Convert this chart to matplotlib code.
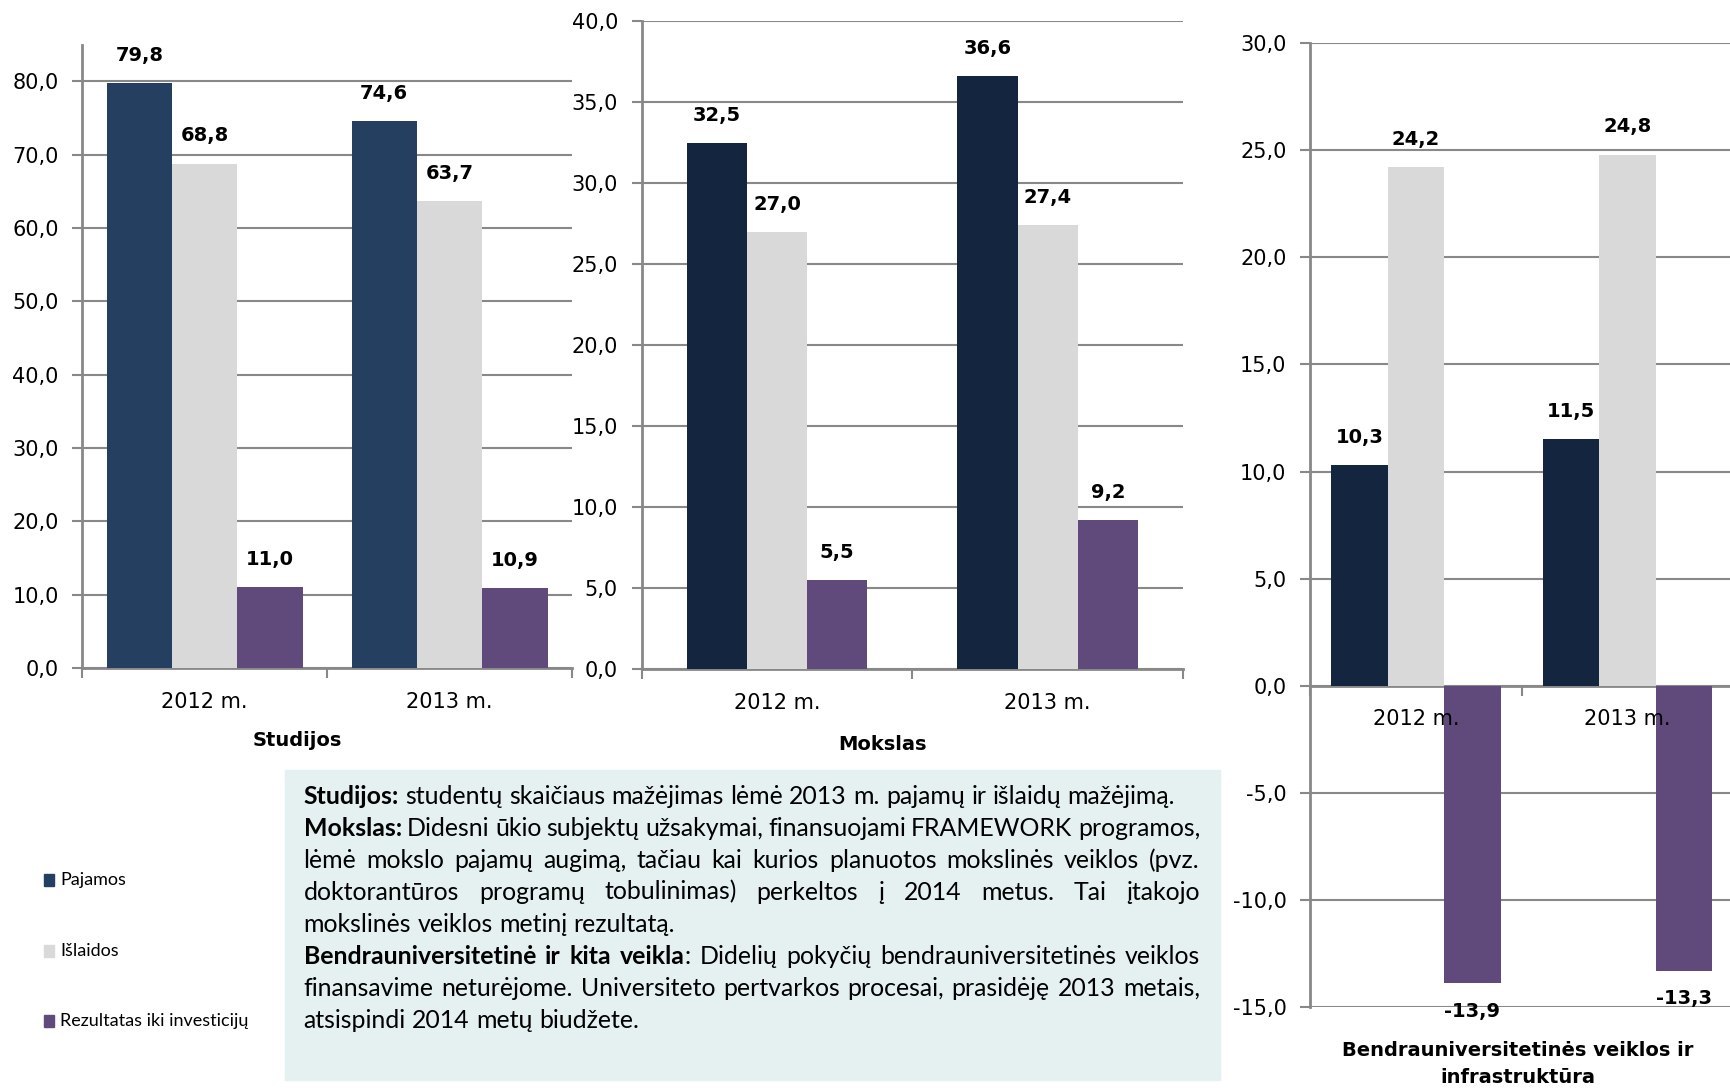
import matplotlib
matplotlib.use("Agg")
import matplotlib.pyplot as plt
from matplotlib.patches import Rectangle
from matplotlib.ticker import FuncFormatter

# data
categories = ['2012 m.', '2013 m.']
series_names = ['Pajamos', 'Išlaidos', 'Rezultatas iki investicijų']

studijos_pajamos = [79.8, 74.6]
studijos_islaidos = [68.8, 63.7]
studijos_rezultatas = [11.0, 10.9]

mokslas_pajamos = [32.5, 36.6]
mokslas_islaidos = [27.0, 27.4]
mokslas_rezultatas = [5.5, 9.2]

bendra_pajamos = [10.3, 11.5]
bendra_islaidos = [24.2, 24.8]
bendra_rezultatas = [-13.9, -13.3]

note_lines = [
    ("**Studijos:** studentų skaičiaus mažėjimas lėmė 2013 m. pajamų ir išlaidų mažėjimą.", False),
    ("**Mokslas:** Didesni ūkio subjektų užsakymai, finansuojami FRAMEWORK programos,", True),
    ("lėmė mokslo pajamų augimą, tačiau kai kurios planuotos mokslinės veiklos (pvz.", True),
    ("doktorantūros programų tobulinimas) perkeltos į 2014 metus.  Tai įtakojo", True),
    ("mokslinės veiklos metinį rezultatą.", False),
    ("**Bendrauniversitetinė ir kita veikla**:  Didelių pokyčių bendrauniversitetinės veiklos", True),
    ("finansavime neturėjome. Universiteto pertvarkos procesai, prasidėję 2013 metais,", True),
    ("atsispindi 2014 metų biudžete.", False),
]

C_PAJ1 = '#253F60'
C_PAJ2 = '#13253F'
C_ISL = '#D9D9D9'
C_REZ = '#604A7B'
GRID = '#888888'

W, H = 1731, 1092
fig = plt.figure(figsize=(W / 100, H / 100), dpi=100)
fig.patch.set_facecolor('white')

fmt = FuncFormatter(lambda v, p: f"{v:.1f}".replace('.', ','))


def panel(rect, paj, isl, rez, paj_color, group_w, ylim, yticks):
    ax = fig.add_axes(rect)
    bw = group_w / 3
    x = [0, 1]
    cols = [paj_color, C_ISL, C_REZ]
    for t in yticks:
        ax.axhline(t, color=GRID, lw=1.5, zorder=0.5)
    for k, vals in enumerate([paj, isl, rez]):
        xs = [xi + (k - 1) * bw for xi in x]
        ax.bar(xs, vals, width=bw, color=cols[k], zorder=1)
        for xi, v in zip(xs, vals):
            off = 20 if v >= 0 else -20
            ax.annotate(f"{v:.1f}".replace('.', ','), (xi, v), xytext=(0, off),
                        textcoords='offset points', ha='center', va='center',
                        fontsize=14, fontweight='bold', color='black')
    ax.set_xlim(-0.5, 1.5)
    ax.set_ylim(*ylim)
    ax.set_yticks(yticks)
    ax.yaxis.set_major_formatter(fmt)
    ax.set_axisbelow(False)
    ax.set_xticks([-0.5, 0.5, 1.5])
    ax.set_xticklabels([])
    ax.set_xticks([0, 1], minor=True)
    ax.set_xticklabels(categories, minor=True)
    ax.tick_params(axis='x', which='minor', length=0, pad=17, labelsize=15)
    ax.tick_params(axis='x', which='major', length=7, width=1.5, color=GRID, direction='out')
    ax.tick_params(axis='y', length=7, width=1.5, color=GRID, pad=10, labelsize=15)
    for s in ['top', 'right']:
        ax.spines[s].set_visible(False)
    for s in ['left', 'bottom']:
        ax.spines[s].set_color(GRID)
        ax.spines[s].set_linewidth(2)
        ax.spines[s].set_zorder(0.6)
    ax.set_facecolor('none')
    return ax


ax1 = panel([82.3 / W, 1 - 668 / H, 489.7 / W, 623.2 / H],
            studijos_pajamos, studijos_islaidos, studijos_rezultatas,
            C_PAJ1, 0.8, (0, 85), [0, 10, 20, 30, 40, 50, 60, 70, 80])
ax2 = panel([641.6 / W, 1 - 669 / H, 541.4 / W, 647.6 / H],
            mokslas_pajamos, mokslas_islaidos, mokslas_rezultatas,
            C_PAJ2, 0.667, (0, 40), [0, 5, 10, 15, 20, 25, 30, 35, 40])
ax3 = panel([1310 / W, 1 - 1007 / H, 423.4 / W, 963.8 / H],
            bendra_pajamos, bendra_islaidos, bendra_rezultatas,
            C_PAJ2, 0.8, (-15, 30), [-15, -10, -5, 0, 5, 10, 15, 20, 25, 30])
ax3.spines['bottom'].set_position(('data', 0))

fig.text(297 / W, 1 - 740 / H, 'Studijos', ha='center', va='center', fontsize=14, fontweight='bold')
fig.text(883 / W, 1 - 744 / H, 'Mokslas', ha='center', va='center', fontsize=14, fontweight='bold')
fig.text(1518 / W, 1 - 1064 / H, 'Bendrauniversitetinės veiklos ir\ninfrastruktūra',
         ha='center', va='center', fontsize=14, fontweight='bold', linespacing=1.5)

# legend
leg_y = [880, 950.5, 1021]
for name, col, y in zip(series_names, [C_PAJ1, C_ISL, C_REZ], leg_y):
    fig.add_artist(Rectangle((44 / W, 1 - (y + 6) / H), 10 / W, 12 / H,
                             transform=fig.transFigure, color=col))
    fig.text(60 / W, 1 - y / H, name, ha='left', va='center', fontsize=13, family='Lato')

# note box
fig.add_artist(Rectangle((284.8 / W, 1 - 1079.7 / H), 935.2 / W, 310.2 / H,
                         transform=fig.transFigure, color='#E5F1F1', zorder=0))

fig.canvas.draw()
rend = fig.canvas.get_renderer()


def parse(line):
    words = []
    bold = False
    for w in line.split(' '):
        if w == '':
            continue
        segs = []
        parts = w.split('**')
        for i, p in enumerate(parts):
            if i > 0:
                bold = not bold
            if p:
                segs.append((p, bold))
        words.append(segs)
    return words


def tw(s, bold, fs):
    t = fig.text(0, 0, s, fontsize=fs, family='Lato', fontweight='bold' if bold else 'normal')
    w = t.get_window_extent(rend).width
    t.remove()
    return w


def line_width(words, fs):
    sp = tw('a a', False, fs) - tw('aa', False, fs)
    return sum(tw(s, b, fs) for wd in words for s, b in wd) + sp * (len(words) - 1)


left, right = 303.6, 1200
fs0 = 10
w0 = line_width(parse(note_lines[0][0]), fs0)
fs = fs0 * 872 / w0
space = tw('a a', False, fs) - tw('aa', False, fs)

y = 796
for line, justify in note_lines:
    words = parse(line)
    widths = [[tw(s, b, fs) for s, b in wd] for wd in words]
    total = sum(sum(w) for w in widths)
    gap = (right - left - total) / (len(words) - 1) if justify else space
    x = left
    for wd, ws in zip(words, widths):
        for (s, b), w in zip(wd, ws):
            fig.text(x / W, 1 - y / H, s, ha='left', va='center', fontsize=fs,
                     family='Lato', fontweight='bold' if b else 'normal')
            x += w
        x += gap
    y += 32

fig.savefig('out.png', dpi=100)
